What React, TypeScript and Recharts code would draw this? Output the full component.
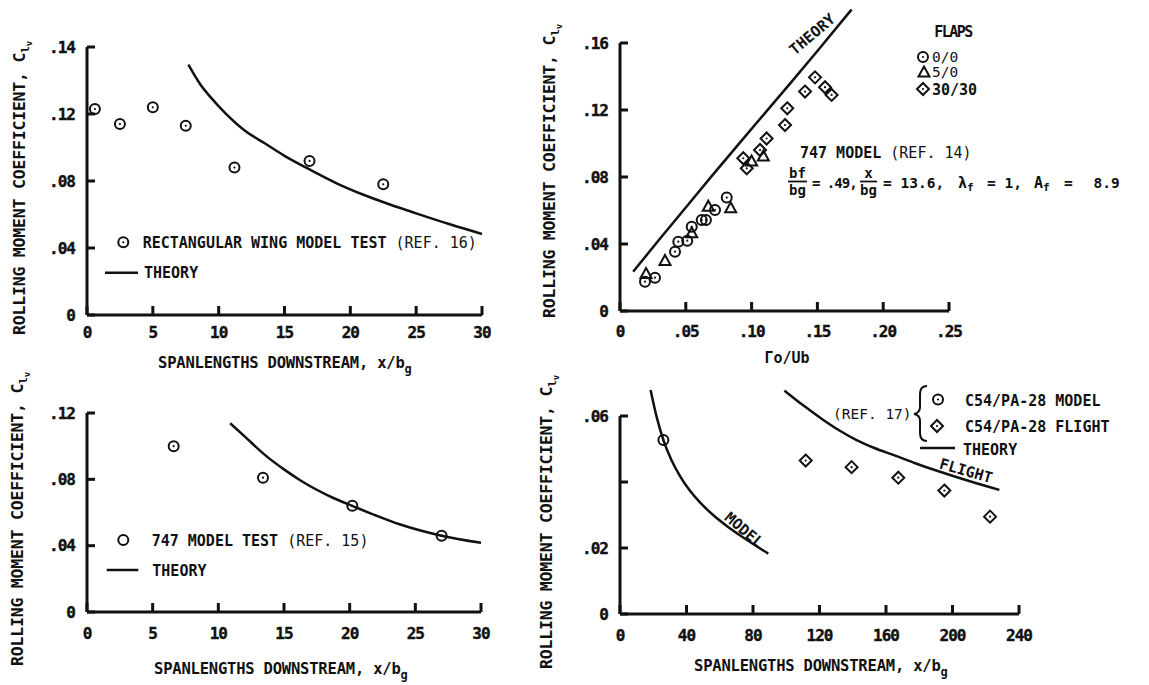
import React from "react";
import { ComposedChart, Line, Scatter, XAxis, YAxis, ReferenceLine } from "recharts";

const INK = "#111";
const MONO = '"DejaVu Sans Mono", "Liberation Mono", monospace';

// upper left: rectangular wing model test (ref. 16)
const rectX = [0.6, 2.5, 5.0, 7.5, 11.2, 16.9, 22.5];
const rectC = [0.123, 0.114, 0.124, 0.113, 0.088, 0.092, 0.078];
const rectTheoryX = [7.7, 8.6, 9.5, 10.5, 12, 13.5, 15, 17, 19, 21, 23, 25, 27.5, 30];
const rectTheoryC = [0.1495, 0.1378, 0.129, 0.1205, 0.11, 0.1025, 0.095, 0.0865, 0.0785, 0.0718, 0.066, 0.0607, 0.0543, 0.0484];

// upper right: 747 model, rolling moment vs circulation
const flap0X = [0.019, 0.0266, 0.0418, 0.0443, 0.0511, 0.0545, 0.0621, 0.0653, 0.0722, 0.0811];
const flap0C = [0.0175, 0.0199, 0.0354, 0.0414, 0.042, 0.0503, 0.0543, 0.0543, 0.0603, 0.0677];
const flap5X = [0.0198, 0.0342, 0.0545, 0.0671, 0.0841, 0.1, 0.1089];
const flap5C = [0.0221, 0.0299, 0.0464, 0.0623, 0.0613, 0.0892, 0.0922];
const flap30X = [0.0937, 0.0963, 0.1064, 0.1114, 0.1254, 0.1271, 0.1406, 0.1482, 0.1558, 0.1608];
const flap30C = [0.0912, 0.0852, 0.0961, 0.103, 0.111, 0.121, 0.131, 0.1395, 0.1336, 0.129];
const flapTheoryX = [0.01, 0.03, 0.05, 0.07, 0.09, 0.11, 0.13, 0.15, 0.176];
const flapTheoryC = [0.0235, 0.0428, 0.0618, 0.0808, 0.0995, 0.118, 0.1365, 0.1552, 0.18];

// lower left: 747 model test (ref. 15)
const b747X = [6.6, 13.4, 20.2, 27.0];
const b747C = [0.1, 0.081, 0.064, 0.046];
const b747TheoryX = [10.9, 12, 13.7, 15, 16.2, 18.8, 20.2, 22, 23.8, 27, 30];
const b747TheoryC = [0.1138, 0.1059, 0.0937, 0.086, 0.0796, 0.0686, 0.064, 0.0582, 0.0529, 0.046, 0.0417];

// lower right: C54/PA-28 model and flight (ref. 17)
const c54ModelX = [26.1];
const c54ModelC = [0.0527];
const c54FlightX = [111.7, 139.3, 167.4, 195.1, 222.6];
const c54FlightC = [0.0465, 0.0445, 0.0413, 0.0374, 0.0295];
const modelTheoryX = [18.4, 22, 26.1, 31, 36.1, 42, 48.1, 56, 64.2, 76.2, 89.2];
const modelTheoryC = [0.0679, 0.0598, 0.0527, 0.0466, 0.0418, 0.0374, 0.0338, 0.03, 0.0267, 0.0225, 0.0183];
const flightTheoryX = [98.9, 110, 122.3, 132, 142.3, 153, 164.4, 178, 192.5, 210, 228.2];
const flightTheoryC = [0.0677, 0.0633, 0.0588, 0.0556, 0.0527, 0.0503, 0.0482, 0.0456, 0.0431, 0.0403, 0.0376];

// axis ticks
const spanTicks = [0, 5, 10, 15, 20, 25, 30];
const spanLabels = ["0", "5", "10", "15", "20", "25", "30"];
const gammaTicks = [0, 0.05, 0.1, 0.15, 0.2, 0.25];
const gammaLabels = ["0", ".05", ".10", ".15", ".20", ".25"];
const longTicks = [0, 40, 80, 120, 160, 200, 240];
const longLabels = ["0", "40", "80", "120", "160", "200", "240"];
const tlYTicks = [0, 0.04, 0.08, 0.12, 0.16];
const tlYLabels = ["0", ".04", ".08", ".12", ".14"];
const trYTicks = [0, 0.04, 0.08, 0.12, 0.16];
const trYLabels = ["0", ".04", ".08", ".12", ".16"];
const blYTicks = [0, 0.04, 0.08, 0.12];
const blYLabels = ["0", ".04", ".08", ".12"];
const brYTicks = [0, 0.02, 0.04, 0.06];
const brYLabels = ["0", ".02", "", ".06"];

const pts = (xs: number[], ys: number[]) => xs.map((x, i) => ({ x, y: ys[i] }));

const pickLabel = (ticks: number[], labels: string[], v: number) => {
  const i = ticks.findIndex((t) => Math.abs(t - v) < 1e-9);
  return i < 0 ? "" : labels[i];
};

// panel frames (page pixels) and axis ranges
const TL = { left: 0, top: 0, width: 500, height: 345, margin: { top: 47, right: 18, bottom: 0, left: 0 }, yWidth: 87, xHeight: 30, xDomain: [0, 30], yDomain: [0, 0.16], xTicks: spanTicks, xLabels: spanLabels, yTicks: tlYTicks, yLabels: tlYLabels, xGap: 17 };
const TR = { left: 540, top: 0, width: 440, height: 345, margin: { top: 9.5, right: 31, bottom: 0, left: 0 }, yWidth: 80, xHeight: 34, xDomain: [0, 0.25], yDomain: [0, 0.18], xTicks: gammaTicks, xLabels: gammaLabels, yTicks: trYTicks, yLabels: trYLabels, yTop: 0.16, xGap: 20 };
const BL = { left: 0, top: 360, width: 500, height: 285, margin: { top: 53, right: 19, bottom: 0, left: 0 }, yWidth: 87, xHeight: 33, xDomain: [0, 30], yDomain: [0, 0.12], xTicks: spanTicks, xLabels: spanLabels, yTicks: blYTicks, yLabels: blYLabels, xGap: 21 };
const BR = { left: 540, top: 360, width: 500, height: 285, margin: { top: 23, right: 21, bottom: 0, left: 0 }, yWidth: 80, xHeight: 31, xDomain: [0, 240], yDomain: [0, 0.07], xTicks: longTicks, xLabels: longLabels, yTicks: brYTicks, yLabels: brYLabels, yTop: 0.06, xGap: 21 };

const X_TICK_LEN = 9; // px, pointing up into the plot
const Y_TICK_LEN = 8; // px, pointing right into the plot

const numFont = { fontFamily: MONO, fontWeight: 700, fontSize: 16, letterSpacing: -1, fill: INK, stroke: INK, strokeWidth: 0.4 };

function XTick(props: any) {
  const { x, y, payload, ticks, labels } = props;
  return (
    <text x={x} y={y} dy="0.36em" textAnchor="middle" {...numFont}>
      {pickLabel(ticks, labels, payload.value)}
    </text>
  );
}

function YTick(props: any) {
  const { x, y, payload, ticks, labels } = props;
  return (
    <text x={x} y={y} dy="0.36em" textAnchor="end" {...numFont}>
      {pickLabel(ticks, labels, payload.value)}
    </text>
  );
}

// plot symbols
const Ring = ({ cx, cy, dot = true }: any) => (
  <g>
    <circle cx={cx} cy={cy} r={5} fill="none" stroke={INK} strokeWidth={2} />
    {dot && <circle cx={cx} cy={cy} r={1.1} fill={INK} />}
  </g>
);
const Tri = ({ cx, cy }: any) => (
  <path d={`M${cx},${cy - 6} L${cx + 5.5},${cy + 4} L${cx - 5.5},${cy + 4} Z`} fill="none" stroke={INK} strokeWidth={2} />
);
const Diamond = ({ cx, cy }: any) => (
  <g>
    <path d={`M${cx},${cy - 6} L${cx + 6},${cy} L${cx},${cy + 6} L${cx - 6},${cy} Z`} fill="none" stroke={INK} strokeWidth={2} />
    <circle cx={cx} cy={cy} r={1.1} fill={INK} />
  </g>
);

const axisStroke = { stroke: INK, strokeWidth: 3 };

function Panel({ cfg, children }: any) {
  const { left, top, width, height, margin, yWidth, xHeight, xDomain, yDomain, xTicks, xLabels, yTicks, yLabels, yTop, xGap } = cfg;
  return (
    <div style={{ position: "absolute", left, top }}>
      <ComposedChart width={width} height={height} margin={margin}>
        <XAxis
          type="number"
          dataKey="x"
          domain={xDomain}
          ticks={xTicks}
          interval={0}
          height={xHeight}
          axisLine={axisStroke}
          tickLine={false}
          tickSize={0}
          tickMargin={xGap}
          tick={(p: any) => <XTick {...p} ticks={xTicks} labels={xLabels} />}
        />
        <YAxis
          type="number"
          dataKey="y"
          domain={yDomain}
          ticks={yTicks}
          interval={0}
          width={yWidth}
          axisLine={yTop === undefined ? axisStroke : false}
          tickLine={false}
          tickSize={0}
          tickMargin={12}
          tick={(p: any) => <YTick {...p} ticks={yTicks} labels={yLabels} />}
        />
        {yTop !== undefined && (
          <ReferenceLine
            segment={[
              { x: xDomain[0], y: yDomain[0] },
              { x: xDomain[0], y: yTop },
            ]}
            stroke={INK}
            strokeWidth={3}
          />
        )}
        {children}
      </ComposedChart>
    </div>
  );
}

// inward tick marks along the left and bottom edges of a panel's plot area
function InwardTicks({ cfg }: any) {
  const { left, top, width, height, margin, yWidth, xHeight, xDomain, yDomain, xTicks, yTicks } = cfg;
  const x0 = left + margin.left + yWidth;
  const x1 = left + width - margin.right;
  const y0 = top + height - margin.bottom - xHeight;
  const y1 = top + margin.top;
  const sx = (v: number) => x0 + ((v - xDomain[0]) / (xDomain[1] - xDomain[0])) * (x1 - x0);
  const sy = (v: number) => y0 - ((v - yDomain[0]) / (yDomain[1] - yDomain[0])) * (y0 - y1);
  return (
    <g stroke={INK} strokeWidth={3}>
      {xTicks.map((t: number) => (
        <line key={`x${t}`} x1={sx(t)} x2={sx(t)} y1={y0} y2={y0 - X_TICK_LEN} />
      ))}
      {yTicks.map((t: number) => (
        <line key={`y${t}`} x1={x0} x2={x0 + Y_TICK_LEN} y1={sy(t)} y2={sy(t)} />
      ))}
    </g>
  );
}

const YTitle = ({ x, y }: { x: number; y: number }) => (
  <text transform={`translate(${x},${y}) rotate(-90)`} fontFamily={MONO} fontWeight={700} fontSize={16.5} letterSpacing={-0.2} fill={INK}>
    ROLLING MOMENT COEFFICIENT, C
    <tspan fontSize={11} dy={4}>l</tspan>
    <tspan fontSize={9} dy={3}>v</tspan>
  </text>
);

const XTitle = ({ x, y }: { x: number; y: number }) => (
  <text x={x} y={y} fontFamily={MONO} fontWeight={700} fontSize={15.5} letterSpacing={-0.2} fill={INK}>
    SPANLENGTHS DOWNSTREAM, x/b
    <tspan fontSize={12} dy={5}>g</tspan>
  </text>
);

const txt = { fontFamily: MONO, fill: INK };

export default function App() {
  return (
    <div style={{ position: "absolute", left: 0, top: 0, width: 1149, height: 685, background: "#fff", overflow: "hidden" }}>
      <Panel cfg={TL}>
        <Line data={pts(rectTheoryX, rectTheoryC)} dataKey="y" type="monotone" stroke={INK} strokeWidth={2.5} dot={false} isAnimationActive={false} />
        <Scatter data={pts(rectX, rectC)} dataKey="y" shape={(p: any) => <Ring cx={p.cx} cy={p.cy} />} isAnimationActive={false} />
      </Panel>

      <Panel cfg={TR}>
        <Line data={pts(flapTheoryX, flapTheoryC)} dataKey="y" type="monotone" stroke={INK} strokeWidth={2.5} dot={false} isAnimationActive={false} />
        <Scatter data={pts(flap0X, flap0C)} dataKey="y" shape={(p: any) => <Ring cx={p.cx} cy={p.cy} />} isAnimationActive={false} />
        <Scatter data={pts(flap5X, flap5C)} dataKey="y" shape={(p: any) => <Tri cx={p.cx} cy={p.cy} />} isAnimationActive={false} />
        <Scatter data={pts(flap30X, flap30C)} dataKey="y" shape={(p: any) => <Diamond cx={p.cx} cy={p.cy} />} isAnimationActive={false} />
      </Panel>

      <Panel cfg={BL}>
        <Line data={pts(b747TheoryX, b747TheoryC)} dataKey="y" type="monotone" stroke={INK} strokeWidth={2.5} dot={false} isAnimationActive={false} />
        <Scatter data={pts(b747X, b747C)} dataKey="y" shape={(p: any) => <Ring cx={p.cx} cy={p.cy} />} isAnimationActive={false} />
      </Panel>

      <Panel cfg={BR}>
        <Line data={pts(modelTheoryX, modelTheoryC)} dataKey="y" type="monotone" stroke={INK} strokeWidth={2.5} dot={false} isAnimationActive={false} />
        <Line data={pts(flightTheoryX, flightTheoryC)} dataKey="y" type="monotone" stroke={INK} strokeWidth={2.5} dot={false} isAnimationActive={false} />
        <Scatter data={pts(c54ModelX, c54ModelC)} dataKey="y" shape={(p: any) => <Ring cx={p.cx} cy={p.cy} />} isAnimationActive={false} />
        <Scatter data={pts(c54FlightX, c54FlightC)} dataKey="y" shape={(p: any) => <Diamond cx={p.cx} cy={p.cy} />} isAnimationActive={false} />
      </Panel>

      {/* tick marks, titles, keys and notes */}
      <svg width={1149} height={685} style={{ position: "absolute", left: 0, top: 0, pointerEvents: "none" }}>
        <InwardTicks cfg={TL} />
        <InwardTicks cfg={TR} />
        <InwardTicks cfg={BL} />
        <InwardTicks cfg={BR} />

        {/* upper left */}
        <YTitle x={25} y={335} />
        <XTitle x={158} y={367.5} />
        <Ring cx={123.3} cy={242.3} />
        <text x={142.7} y={247.5} {...txt} fontSize={15} fontWeight={700}>
          RECTANGULAR WING MODEL TEST<tspan fontWeight={400}> (REF. 16)</tspan>
        </text>
        <line x1={105} y1={272.7} x2={138} y2={272.7} stroke={INK} strokeWidth={2.5} />
        <text x={144} y={278} {...txt} fontSize={15} fontWeight={700}>THEORY</text>

        {/* upper right */}
        <YTitle x={555} y={318} />
        <text x={787} y={362.5} textAnchor="middle" {...txt} fontSize={15} fontWeight={700}>Γo/Ub</text>
        <text transform="translate(812,34) rotate(-40)" y={5.5} textAnchor="middle" {...txt} fontSize={15} fontWeight={700}>THEORY</text>
        <text x={953} y={37} textAnchor="middle" {...txt} fontSize={15} letterSpacing={-1.5} fontWeight={700}>FLAPS</text>
        <Ring cx={923} cy={57} />
        <text x={932} y={62} {...txt} fontSize={14.5} fontWeight={400}>0/0</text>
        <Tri cx={924} cy={72.5} />
        <text x={932} y={77} {...txt} fontSize={14.5} fontWeight={400}>5/0</text>
        <Diamond cx={923} cy={89} />
        <text x={932} y={94.5} {...txt} fontSize={15} fontWeight={700}>30/30</text>
        <text x={800} y={157.5} {...txt} fontSize={15} fontWeight={700}>
          747 MODEL<tspan fontWeight={400}> (REF. 14)</tspan>
        </text>
        <g {...txt} fontWeight={700}>
          <text x={797.5} y={178} textAnchor="middle" fontSize={14}>bf</text>
          <line x1={788} y1={181.5} x2={807} y2={181.5} stroke={INK} strokeWidth={1.8} />
          <text x={797.5} y={194.5} textAnchor="middle" fontSize={14}>bg</text>
          <text x={812} y={188} fontSize={14} letterSpacing={-1}>= .49,</text>
          <text x={868.5} y={178} textAnchor="middle" fontSize={14}>x</text>
          <line x1={860} y1={181.5} x2={877} y2={181.5} stroke={INK} strokeWidth={1.8} />
          <text x={868.5} y={194.5} textAnchor="middle" fontSize={14}>bg</text>
          <text x={883} y={188} fontSize={14.5}>= 13.6,</text>
          <text x={958} y={188} fontSize={15}>
            λ<tspan fontSize={11} dy={3}>f</tspan>
          </text>
          <text x={987} y={188} fontSize={14.5}>= 1,</text>
          <text x={1034} y={188} fontSize={15}>
            A<tspan fontSize={11} dy={3}>f</tspan>
          </text>
          <text x={1064} y={188} fontSize={14.5} wordSpacing={12}>= 8.9</text>
        </g>

        {/* lower left */}
        <YTitle x={23} y={666} />
        <XTitle x={154} y={673.5} />
        <Ring cx={123.3} cy={540} dot={false} />
        <text x={151.7} y={545.5} {...txt} fontSize={15} fontWeight={700}>
          747 MODEL TEST<tspan fontWeight={400}> (REF. 15)</tspan>
        </text>
        <line x1={106.7} y1={570} x2={138.3} y2={570} stroke={INK} strokeWidth={2.5} />
        <text x={152.3} y={575.5} {...txt} fontSize={15} fontWeight={700}>THEORY</text>

        {/* lower right */}
        <YTitle x={552} y={669} />
        <XTitle x={694} y={670.5} />
        <text x={833} y={418.5} {...txt} fontSize={14.5} fontWeight={400}>(REF. 17)</text>
        <path
          d="M927,386 Q920,386 920,394 L920,407 Q920,413 914,414 Q920,415 920,421 L920,433 Q920,441 927,441"
          fill="none"
          stroke={INK}
          strokeWidth={2}
        />
        <Ring cx={938} cy={399.5} />
        <text x={965} y={405.5} {...txt} fontSize={15} fontWeight={700}>C54/PA-28 MODEL</text>
        <Diamond cx={937} cy={426} />
        <text x={965} y={432} {...txt} fontSize={15} fontWeight={700}>C54/PA-28 FLIGHT</text>
        <line x1={920} y1={448} x2={955} y2={448} stroke={INK} strokeWidth={2.5} />
        <text x={963} y={454.5} {...txt} fontSize={15} fontWeight={700}>THEORY</text>
        <text transform="translate(744,530) rotate(40)" y={5} textAnchor="middle" {...txt} fontSize={15} fontWeight={700}>MODEL</text>
        <text transform="translate(966,471) rotate(16)" y={5} textAnchor="middle" {...txt} fontSize={15} fontWeight={700}>FLIGHT</text>
      </svg>
    </div>
  );
}
